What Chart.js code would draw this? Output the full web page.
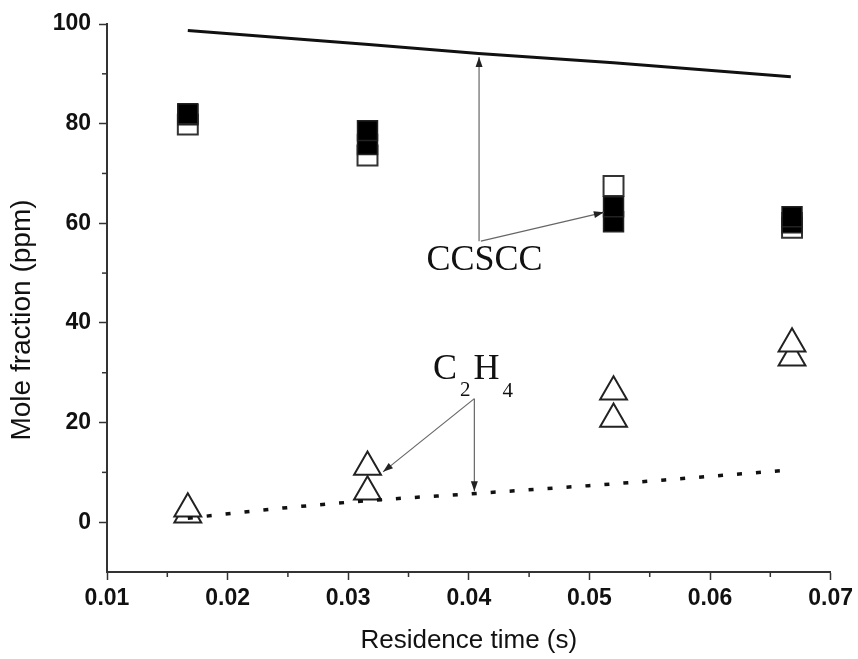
<!DOCTYPE html>
<html>
<head>
<meta charset="utf-8">
<script src="https://cdn.jsdelivr.net/npm/chart.js@4"></script>
<style>
  html, body { margin: 0; padding: 0; background: #fff; }
</style>
</head>
<body>
<canvas id="chart" width="858" height="659"></canvas>
<script>
// experimental residence times (s)
const expTime = [0.0167, 0.0316, 0.052, 0.0668];
// CCSCC measurements (ppm): two filled sets and one open set
const ccsccFilledA = [82.0, 78.6, 63.3, 61.3];
const ccsccFilledB = [81.8, 75.8, 60.3, 60.1];
const ccsccOpen = [79.8, 73.6, 67.5, 59.1];
// C2H4 measurements (ppm)
const c2h4Upper = [2.7, 11.1, 26.2, 35.8];
const c2h4Lower = [1.5, 6.1, 20.7, 33.0];

// model curves
const ccsccModelTime = [0.0167, 0.0317, 0.0408, 0.052, 0.0667];
const ccsccModel = [98.7, 95.9, 94.1, 92.2, 89.4];
const c2h4ModelTime = [0.0167, 0.024, 0.0316, 0.0408, 0.052, 0.0667];
const c2h4Model = [0.8, 2.7, 4.3, 5.8, 7.7, 10.5];

const xTicks = [0.01, 0.02, 0.03, 0.04, 0.05, 0.06, 0.07];
const xMinorTicks = [0.015, 0.025, 0.035, 0.045, 0.055, 0.065];
const yTicks = [0, 20, 40, 60, 80, 100];
const yMinorTicks = [10, 30, 50, 70, 90];

// annotation anchors, in data units
const ccsccLabel = { text: 'CCSCC', t: 0.0413, v: 50.7 };
const c2h4Label = { t: 0.03703, v: 28.8 };
const arrows = [
    { from: [0.04085, 56.4], to: [0.04085, 93.4] },
    { from: [0.04100, 56.4], to: [0.0512, 62.2] },
    { from: [0.04046, 24.8], to: [0.04046, 6.2] },
    { from: [0.04046, 24.8], to: [0.03289, 10.1] },
];
const yTitle = 'Mole fraction (ppm)';

const pts = (xs, ys) => xs.map((t, i) => ({ x: t, y: ys[i] }));

function drawArrow(ctx, x1, y1, x2, y2) {
    ctx.beginPath(); ctx.moveTo(x1, y1); ctx.lineTo(x2, y2); ctx.stroke();
    const a = Math.atan2(y2 - y1, x2 - x1), len = 10, w = 3.5;
    ctx.beginPath();
    ctx.moveTo(x2, y2);
    ctx.lineTo(x2 - len * Math.cos(a) + w * Math.sin(a), y2 - len * Math.sin(a) - w * Math.cos(a));
    ctx.lineTo(x2 - len * Math.cos(a) - w * Math.sin(a), y2 - len * Math.sin(a) + w * Math.cos(a));
    ctx.closePath(); ctx.fill();
}

const annotate = {
    id: 'annotate',
    afterDraw(chart) {
        const { ctx, chartArea, scales: { x, y } } = chart;
        ctx.save();
        // minor ticks
        ctx.strokeStyle = '#333'; ctx.lineWidth = 1.5;
        xMinorTicks.forEach(t => {
            const px = x.getPixelForValue(t);
            ctx.beginPath(); ctx.moveTo(px, chartArea.bottom); ctx.lineTo(px, chartArea.bottom + 5); ctx.stroke();
        });
        yMinorTicks.forEach(v => {
            const py = y.getPixelForValue(v);
            ctx.beginPath(); ctx.moveTo(chartArea.left, py); ctx.lineTo(chartArea.left - 5, py); ctx.stroke();
        });

        // arrows
        ctx.strokeStyle = '#666'; ctx.fillStyle = '#222'; ctx.lineWidth = 1.2;
        arrows.forEach(a => drawArrow(ctx,
            x.getPixelForValue(a.from[0]), y.getPixelForValue(a.from[1]),
            x.getPixelForValue(a.to[0]), y.getPixelForValue(a.to[1])));

        // labels
        ctx.fillStyle = '#111';
        ctx.textBaseline = 'alphabetic';
        ctx.textAlign = 'center';
        ctx.font = '36px "Liberation Serif", "DejaVu Serif", serif';
        ctx.fillText(ccsccLabel.text, x.getPixelForValue(ccsccLabel.t), y.getPixelForValue(ccsccLabel.v));

        ctx.textAlign = 'left';
        let lx = x.getPixelForValue(c2h4Label.t);
        const ly = y.getPixelForValue(c2h4Label.v);
        const parts = [['C', 36, 0], ['2', 21, 17], ['H', 36, 0], ['4', 21, 18]];
        parts.forEach(([s, size, drop]) => {
            ctx.font = size + 'px "Liberation Serif", "DejaVu Serif", serif';
            ctx.fillText(s, lx, ly + drop);
            lx += ctx.measureText(s).width + 3;
        });

        // y-axis title (sits a little below the centre of the axis in the original)
        ctx.translate(22, 320);
        ctx.rotate(-Math.PI / 2);
        ctx.textAlign = 'center';
        ctx.textBaseline = 'middle';
        ctx.font = '28px "Liberation Sans", Arial, sans-serif';
        ctx.fillText(yTitle, 0, 0);
        ctx.restore();
    }
};

const tickFont = { family: '"Liberation Sans", Arial, sans-serif', size: 23, weight: 'bold' };
const titleFont = { family: '"Liberation Sans", Arial, sans-serif', size: 26 };

new Chart(document.getElementById('chart'), {
    type: 'scatter',
    data: {
        datasets: [
            {
                label: 'CCSCC model', data: pts(ccsccModelTime, ccsccModel), showLine: true,
                borderColor: '#111', borderWidth: 3, pointRadius: 0, tension: 0
            },
            {
                label: 'C2H4 model', data: pts(c2h4ModelTime, c2h4Model), showLine: true,
                borderColor: '#111', borderWidth: 3.5, borderDash: [5, 14], pointRadius: 0,
                cubicInterpolationMode: 'monotone'
            },
            {
                label: 'CCSCC A', data: pts(expTime, ccsccFilledA), pointStyle: 'rect', pointRadius: 14.1,
                backgroundColor: '#000', borderColor: '#222', borderWidth: 1.5
            },
            {
                label: 'CCSCC B', data: pts(expTime, ccsccFilledB), pointStyle: 'rect', pointRadius: 14.1,
                backgroundColor: '#000', borderColor: '#222', borderWidth: 1.5
            },
            {
                label: 'CCSCC open', data: pts(expTime, ccsccOpen), pointStyle: 'rect', pointRadius: 14.1,
                backgroundColor: '#fff', borderColor: '#333', borderWidth: 2
            },
            {
                label: 'C2H4 upper', data: pts(expTime, c2h4Upper), pointStyle: 'triangle', pointRadius: 15.5,
                backgroundColor: '#fff', borderColor: '#222', borderWidth: 2
            },
            {
                label: 'C2H4 lower', data: pts(expTime, c2h4Lower), pointStyle: 'triangle', pointRadius: 15.5,
                backgroundColor: '#fff', borderColor: '#222', borderWidth: 2
            },
        ]
    },
    options: {
        responsive: false,
        animation: false,
        layout: { padding: { top: 24, right: 25, left: 0, bottom: 0 } },
        plugins: { legend: { display: false }, tooltip: { enabled: false } },
        scales: {
            x: {
                type: 'linear', min: 0.01, max: 0.07,
                afterBuildTicks: s => { s.ticks = xTicks.map(value => ({ value })); },
                afterFit: s => { s.height = 87; },
                ticks: { font: tickFont, color: '#111', padding: 5, maxRotation: 0, callback: v => v.toFixed(2) },
                grid: { drawOnChartArea: false, tickLength: 8, tickColor: '#333', tickWidth: 1.5 },
                border: { color: '#333', width: 2 },
                title: { display: true, text: 'Residence time (s)', font: titleFont, color: '#111', padding: { top: 0, bottom: 3 } }
            },
            y: {
                type: 'linear', min: -10, max: 100,
                afterBuildTicks: s => { s.ticks = yTicks.map(value => ({ value })); },
                afterFit: s => { s.width = 107; },
                ticks: { font: tickFont, color: '#111', padding: 8, callback: v => String(v) },
                grid: { drawOnChartArea: false, tickLength: 8, tickColor: '#333', tickWidth: 1.5 },
                border: { color: '#333', width: 2 }
            }
        }
    },
    plugins: [annotate]
});
</script>
</body>
</html>
